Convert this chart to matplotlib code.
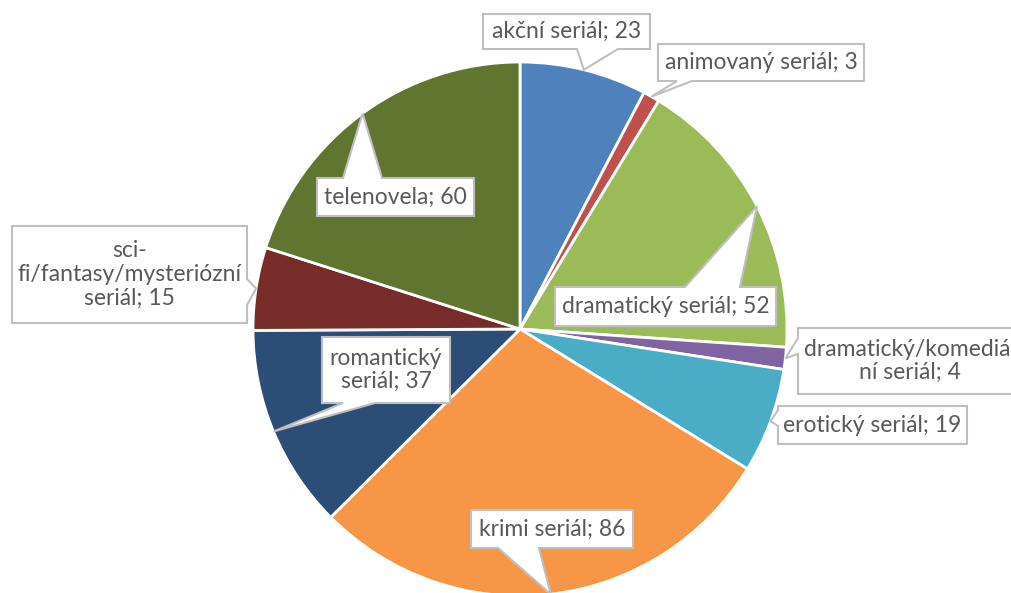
import numpy as np
import matplotlib.pyplot as plt
from matplotlib.patches import Polygon

labels = ['akční seriál', 'animovaný seriál', 'dramatický seriál',
          'dramatický/komediál\nní seriál', 'erotický seriál', 'krimi seriál',
          'romantický\nseriál', 'sci-\nfi/fantasy/mysteriózní\nseriál', 'telenovela']
values = [23, 3, 52, 4, 19, 86, 37, 15, 60]
colors = ['#4F81BD', '#C0504D', '#9BBB59', '#8064A2', '#4BACC6', '#F79646',
          '#2C4D75', '#772C2A', '#5F7530']

W, H = 1011, 593

# callout boxes in pixel coords (x0, y0, x1, y1), side of pointer, pointer base
callouts = [
    ((483, 14, 650, 49), 'bottom', (577, 618)),
    ((658, 44, 864, 81), 'bottom', (677, 692)),
    ((555, 287, 776, 326), 'top', (685, 740)),
    ((798, 328, 1022, 394), 'left', (338, 354)),
    ((778, 406, 967, 444), 'left', (410, 426)),
    ((471, 510, 633, 548), 'bottom', (498, 539)),
    ((322, 337, 450, 403), 'bottom', (343, 375)),
    ((12, 226, 247, 323), 'right', (279, 305)),
    ((317, 178, 474, 216), 'top', (343, 382)),
]


def callout_poly(box, side, base, tip):
    x0, y0, x1, y1 = box
    a, b = base
    if side == 'top':
        pts = [(x0, y0), (a, y0), tip, (b, y0), (x1, y0), (x1, y1), (x0, y1)]
    elif side == 'right':
        pts = [(x0, y0), (x1, y0), (x1, a), tip, (x1, b), (x1, y1), (x0, y1)]
    elif side == 'bottom':
        pts = [(x0, y0), (x1, y0), (x1, y1), (b, y1), tip, (a, y1), (x0, y1)]
    else:
        pts = [(x0, y0), (x1, y0), (x1, y1), (x0, y1), (x0, b), tip, (x0, a)]
    return [(px, H - py) for px, py in pts]


fig = plt.figure(figsize=(W / 100, H / 100), dpi=100)
ax = fig.add_axes([0, 0, 1, 1])

cx, cy, r = 520, H - 329, 267
wedges, _ = ax.pie(values, colors=colors, startangle=90, counterclock=False,
                   center=(cx, cy), radius=r, frame=True,
                   wedgeprops=dict(edgecolor='white', linewidth=2))

ax.set_aspect('equal')
ax.set_xlim(0, W)
ax.set_ylim(0, H)
ax.axis('off')

for w, lab, val, (box, side, base) in zip(wedges, labels, values, callouts):
    mid = np.deg2rad((w.theta1 + w.theta2) / 2)
    tip = (cx + r * np.cos(mid), H - (cy + r * np.sin(mid)))
    poly = Polygon(callout_poly(box, side, base, tip), closed=True,
                   facecolor='white', edgecolor='#BFBFBF', linewidth=1.5,
                   zorder=5, joinstyle='miter')
    ax.add_patch(poly)
    x0, y0, x1, y1 = box
    ax.text((x0 + x1) / 2, H - (y0 + y1) / 2, f'{lab}; {val}',
            ha='center', va='center', fontsize=16.5, color='#595959',
            family='Lato', linespacing=1.15, zorder=6)

fig.savefig('out.png', dpi=100)
